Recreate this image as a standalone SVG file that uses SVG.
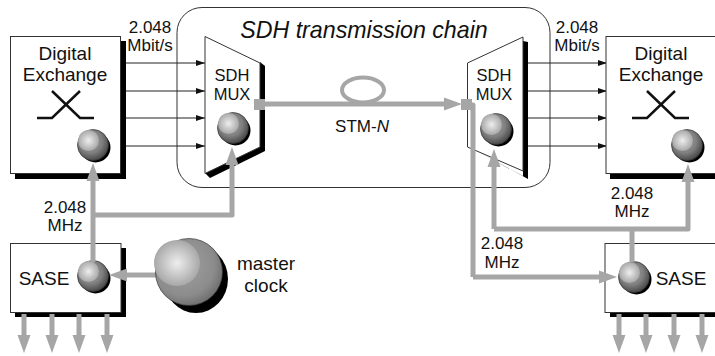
<svg xmlns="http://www.w3.org/2000/svg" width="715" height="356" viewBox="0 0 715 356">
<style>
text{font-family:"Liberation Sans",Arial,sans-serif;font-size:17px;fill:#111;text-anchor:middle}
.big{font-size:19px}
.mux{font-size:16.500px}
.box{fill:#fff;stroke:#333;stroke-width:1}
.sh{fill:#000}
.thin{fill:none;stroke:#222;stroke-width:1;marker-end:url(#sm)}
.g{fill:none;stroke:#a6a6a6;stroke-width:5;stroke-linejoin:round}
.ga{marker-end:url(#arr)}
.gb{fill:#a6a6a6}
</style>
<defs>
<marker id="sm" markerUnits="userSpaceOnUse" markerWidth="10" markerHeight="6" refX="9" refY="3" orient="auto"><path d="M0 0L9 3L0 6z" fill="#111"/></marker>
<marker id="arr" markerUnits="userSpaceOnUse" markerWidth="20" markerHeight="14" refX="1" refY="7" orient="auto"><path d="M0 0.500L18 7L0 13.500z" fill="#a6a6a6"/></marker>
<radialGradient id="ballOut" cx="0.42" cy="0.38" r="0.68"><stop offset="0" stop-color="#a0a0a0"/><stop offset="0.55" stop-color="#808080"/><stop offset="1" stop-color="#3c3c3c"/></radialGradient>
<radialGradient id="ballIn"><stop offset="0" stop-color="#eeeeee"/><stop offset="1" stop-color="#a8a8a8"/></radialGradient>
<radialGradient id="bigOut" cx="0.42" cy="0.4" r="0.65"><stop offset="0" stop-color="#a0a0a0"/><stop offset="0.7" stop-color="#8c8c8c"/><stop offset="1" stop-color="#6a6a6a"/></radialGradient>
<g id="sphere"><circle cx="2.500" cy="2.500" r="15" fill="#000"/><circle r="15.500" fill="url(#ballOut)" stroke="#333" stroke-width="0.700"/><circle cx="-4.500" cy="-4.500" r="10.500" fill="url(#ballIn)"/></g>
</defs>
<g id="chain"><rect x="177" y="7.500" width="373" height="180" rx="25" fill="#fff" stroke="#333"/><text x="364" y="38" style="font-size:23.200px;font-style:italic">SDH transmission chain</text></g>
<g id="connectors-thin">
<path class="thin" d="M126 63H205"/><path class="thin" d="M126 91H205"/><path class="thin" d="M126 118H205"/><path class="thin" d="M126 146H205"/>
<path class="thin" d="M528 63H607"/><path class="thin" d="M528 91H607"/><path class="thin" d="M528 118H607"/><path class="thin" d="M528 146H607"/>
</g>
<g id="digital-exchange-left"><rect class="sh" x="15" y="41" width="111" height="138"/><rect class="box" x="10.500" y="36.500" width="110" height="137"/><text class="big" x="65" y="60">Digital</text><text class="big" x="65" y="81">Exchange</text><path d="M37 118H52L80 91M52 91L80 118H94" fill="none" stroke="#111" stroke-width="2.500"/><use href="#sphere" x="93" y="145"/></g>
<g id="digital-exchange-right"><rect class="sh" x="610" y="41" width="105" height="138"/><rect class="box" x="606" y="36.500" width="115" height="137"/><text class="big" x="661" y="60">Digital</text><text class="big" x="661" y="81">Exchange</text><path d="M632 118H647L675 91M647 91L675 118H689" fill="none" stroke="#111" stroke-width="2.500"/><use href="#sphere" x="687" y="145"/></g>
<g id="sdh-mux-left"><path class="sh" d="M210 178L265 151V66L260 62V146L205 173z"/><path class="box" d="M205 36.500L260 63V147L205 173.500z"/><text class="mux" x="232" y="81">SDH</text><text class="mux" x="232" y="99.500">MUX</text><use href="#sphere" x="233" y="128"/></g>
<g id="sdh-mux-right"><path class="sh" d="M475 150L523 176V41L528 42V179z"/><path class="box" d="M467.500 63L523 37V171L467.500 147z"/><text class="mux" x="494" y="81">SDH</text><text class="mux" x="494" y="99.500">MUX</text><use href="#sphere" x="496" y="129"/></g>
<g id="sase-left"><rect class="sh" x="15" y="248" width="111" height="69"/><rect class="box" x="10.500" y="243.500" width="110.500" height="69"/><text class="big" x="44" y="285">SASE</text></g>
<g id="sase-right"><rect class="sh" x="610" y="248" width="105" height="69"/><rect class="box" x="605" y="243.500" width="116" height="69"/><text class="big" x="681" y="285">SASE</text></g>
<g id="fiber"><ellipse cx="363" cy="90" rx="21" ry="12.500" fill="none" stroke="#a6a6a6" stroke-width="4"/></g>
<g id="spheres-bottom"><use href="#sphere" x="93" y="276"/><use href="#sphere" x="634" y="277"/></g>
<g id="connectors">
<path class="g" d="M93 262V215"/>
<path class="g ga" d="M93 215V180"/>
<path class="g ga" d="M93 215H232V164"/>
<path class="g ga" d="M156 275H126"/>
<path class="g ga" d="M24 314V336"/><path class="g ga" d="M52 314V336"/><path class="g ga" d="M79 314V336"/><path class="g ga" d="M107 314V336"/>
<path class="g ga" d="M619 314V336"/><path class="g ga" d="M646 314V336"/><path class="g ga" d="M674 314V336"/><path class="g ga" d="M702 314V336"/>
<path class="g ga" d="M258 104H445"/>
<rect class="gb" x="254" y="99" width="11" height="11"/><rect class="gb" x="461" y="99" width="11" height="11"/>
<path class="g" d="M472 105H473V277"/>
<path class="g ga" d="M473 277H600"/>
<path class="g ga" d="M494 229V166"/>
<path class="g ga" d="M494 229H688V181"/>
<path class="g" d="M632 229V262"/>
</g>
<g id="master-clock"><ellipse cx="196" cy="279" rx="32" ry="34" fill="#000"/><circle cx="189" cy="272" r="33.500" fill="url(#bigOut)" stroke="#333" stroke-width="0.700"/><circle cx="177" cy="263" r="23" fill="url(#ballIn)"/><text class="big" x="266" y="270">master</text><text class="big" x="266" y="292">clock</text></g>
<g id="labels">
<text x="150" y="33">2.048</text><text x="150" y="51">Mbit/s</text>
<text x="577" y="33">2.048</text><text x="577" y="51">Mbit/s</text>
<text x="65" y="213">2.048</text><text x="65" y="231">MHz</text>
<text x="632" y="199">2.048</text><text x="632" y="217">MHz</text>
<text x="502" y="249">2.048</text><text x="502" y="268">MHz</text>
<text x="362" y="132">STM-<tspan font-style="italic">N</tspan></text>
</g>
</svg>
